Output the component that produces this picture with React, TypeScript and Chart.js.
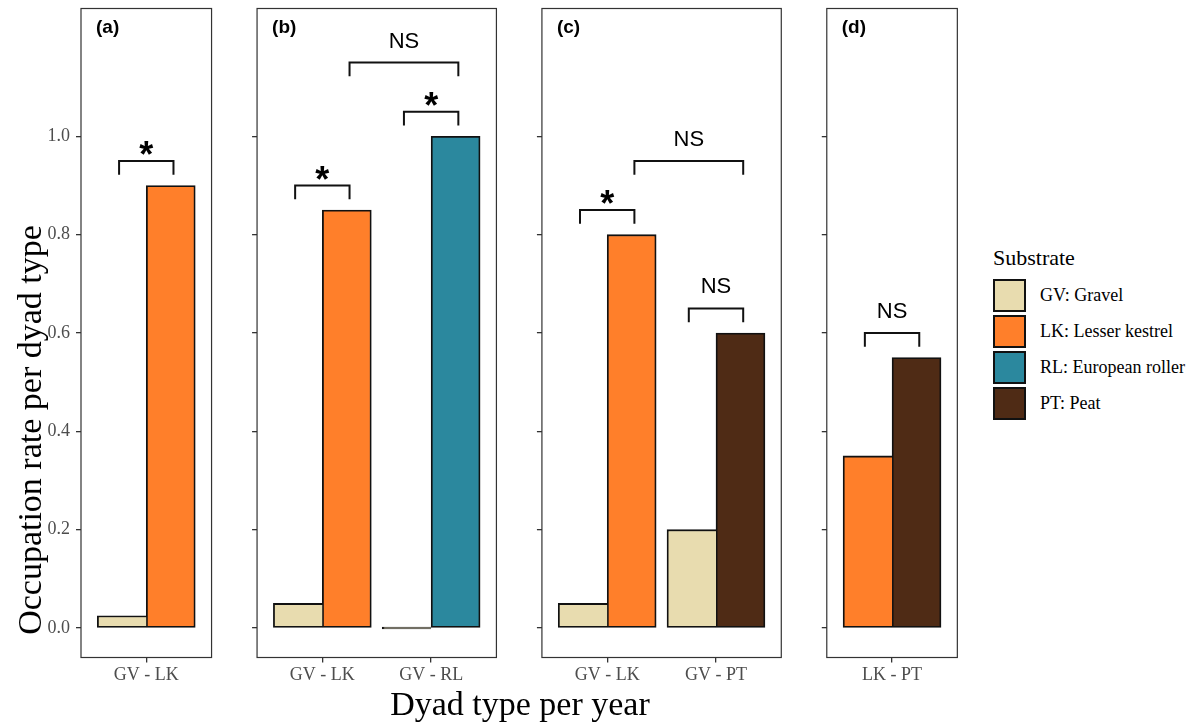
import React, { useEffect, useRef } from 'react';
import { Chart, registerables } from 'chart.js';

Chart.register(...registerables);

// ---------- data ----------
const panelLabels = ['(a)', '(b)', '(c)', '(d)'];
const panelCategories = [['GV - LK'], ['GV - LK', 'GV - RL'], ['GV - LK', 'GV - PT'], ['LK - PT']];
const substrateNames = ['GV: Gravel', 'LK: Lesser kestrel', 'RL: European roller', 'PT: Peat'];
const substrateColors = ['#E8DCAF', '#FF7F2A', '#2B889E', '#4F2B15'];
const gravelValues = [[0.025], [0.05, 0.0], [0.05, 0.2], [null]];
const kestrelValues = [[0.9], [0.85, null], [0.8, null], [0.35]];
const rollerValues = [[null], [null, 1.0], [null, null], [null]];
const peatValues = [[null], [null, null], [null, 0.6], [0.55]];
const yTickValues = [0, 0.2, 0.4, 0.6, 0.8, 1.0];

// significance brackets
const bracketPanel = [0, 1, 1, 1, 2, 2, 2, 3];
const bracketFrom = [0.75, 0.75, 1.75, 1.25, 0.75, 1.25, 1.75, 0.75];
const bracketTo = [1.25, 1.25, 2.25, 2.25, 1.25, 2.25, 2.25, 1.25];
const bracketY = [0.95, 0.9, 1.05, 1.15, 0.85, 0.95, 0.65, 0.6];
const bracketLabel = ['*', '*', '*', 'NS', '*', 'NS', 'NS', 'NS'];

const seriesValues = [gravelValues, kestrelValues, rollerValues, peatValues];

// ---------- layout ----------
const UNIT = 108.8;
const GAP = 45.5;
const FIRST_LEFT = 81;
const PANEL_TOP = 8.5;
const PANEL_BOTTOM = 657.5;
const CANVAS_H = 700;
const AXIS_SPACE = 60;
const BAR_PX = UNIT * 0.45;
const TIP = 0.028;
const BAR_BORDER = 1.8;
const SERIF = '"Liberation Serif", "Times New Roman", serif';
const SANS = '"Liberation Sans", Arial, sans-serif';

function panelGeometry(p: number) {
  let left = FIRST_LEFT;
  for (let i = 0; i < p; i++) left += (panelCategories[i].length + 0.2) * UNIT + GAP;
  const width = (panelCategories[p].length + 0.2) * UNIT;
  const right = left + width;
  const canvasLeft = Math.floor(left) - AXIS_SPACE;
  const axisW = left - canvasLeft;
  const canvasW = Math.ceil(right) + 3 - canvasLeft;
  const rightPad = canvasLeft + canvasW - right;
  return { left, width, canvasLeft, axisW, canvasW, rightPad };
}

function makeConfig(p: number, g: ReturnType<typeof panelGeometry>): any {
  const cats = panelCategories[p];
  const isLeftBar = (s: number, k: number) => {
    if (seriesValues[s][p][k] == null) return false;
    for (let s2 = s + 1; s2 < seriesValues.length; s2++) {
      if (seriesValues[s2][p][k] != null) return true;
    }
    return false;
  };
  const decor = {
    id: 'panelDecor' + p,
    afterDatasetsDraw(chart: any) {
      const { ctx, chartArea: a, scales } = chart;
      ctx.save();
      ctx.strokeStyle = '#333333';
      ctx.lineWidth = 1.2;
      ctx.strokeRect(a.left, a.top, a.right - a.left, a.bottom - a.top);
      ctx.fillStyle = '#000';
      ctx.font = 'bold 19px ' + SANS;
      ctx.textAlign = 'left';
      ctx.textBaseline = 'alphabetic';
      ctx.fillText(panelLabels[p], a.left + 15, a.top + 24);
      bracketPanel.forEach((bp, i) => {
        if (bp !== p) return;
        const x1 = scales.x.getPixelForValue(bracketFrom[i]);
        const x2 = scales.x.getPixelForValue(bracketTo[i]);
        const y = scales.y.getPixelForValue(bracketY[i]);
        const yTip = scales.y.getPixelForValue(bracketY[i] - TIP);
        ctx.beginPath();
        ctx.moveTo(x1, yTip);
        ctx.lineTo(x1, y);
        ctx.lineTo(x2, y);
        ctx.lineTo(x2, yTip);
        ctx.lineWidth = 2;
        ctx.strokeStyle = '#111';
        ctx.stroke();
        ctx.textAlign = 'center';
        ctx.fillStyle = '#000';
        const mid = (x1 + x2) / 2;
        if (bracketLabel[i] === '*') {
          ctx.font = 'bold 36px ' + SANS;
          ctx.fillText(bracketLabel[i], mid, y + 6);
        } else {
          ctx.font = '22px ' + SANS;
          ctx.fillText(bracketLabel[i], mid, y - 15);
        }
      });
      ctx.restore();
    },
  };
  return {
    type: 'bar',
    data: {
      datasets: seriesValues.map((vals, s) => ({
        label: substrateNames[s],
        data: cats.map((_, k) => ({ x: k + 1, y: vals[p][k] })),
        backgroundColor: substrateColors[s],
        borderColor: '#111111',
        borderWidth: (ctx: any) =>
          isLeftBar(s, ctx.dataIndex)
            ? { top: BAR_BORDER, left: BAR_BORDER, bottom: BAR_BORDER, right: 0 }
            : BAR_BORDER,
        borderSkipped: false,
        barThickness: BAR_PX,
        minBarLength: 2,
        skipNull: true,
      })),
    },
    options: {
      animation: false,
      responsive: false,
      maintainAspectRatio: false,
      devicePixelRatio: 1,
      layout: { padding: { top: PANEL_TOP, right: g.rightPad, left: 0, bottom: 0 } },
      plugins: { legend: { display: false }, tooltip: { enabled: false } },
      events: [],
      scales: {
        x: {
          type: 'linear',
          offset: false,
          min: 0.4,
          max: cats.length + 0.6,
          afterBuildTicks: (s: any) => {
            s.ticks = cats.map((_, k) => ({ value: k + 1 }));
          },
          afterFit: (s: any) => {
            s.height = CANVAS_H - PANEL_BOTTOM;
            s.paddingLeft = 0;
            s.paddingRight = 0;
          },
          ticks: {
            callback: (v: any) => cats[Number(v) - 1] ?? '',
            color: '#4D4D4D',
            font: { family: SERIF, size: 18 },
            padding: 2,
            maxRotation: 0,
            autoSkip: false,
          },
          grid: {
            offset: false,
            drawOnChartArea: false,
            drawTicks: true,
            tickLength: 5,
            color: '#333333',
            lineWidth: 1.3,
          },
          border: { display: false },
        },
        y: {
          type: 'linear',
          min: -0.06,
          max: 1.26,
          afterBuildTicks: (s: any) => {
            s.ticks = yTickValues.map((v) => ({ value: v }));
          },
          afterFit: (s: any) => {
            s.width = g.axisW;
            s.paddingTop = 0;
            s.paddingBottom = 0;
          },
          ticks: {
            display: p === 0,
            callback: (v: any) => Number(v).toFixed(1),
            color: '#4D4D4D',
            font: { family: SERIF, size: 18 },
            padding: 6,
          },
          grid: { drawOnChartArea: false, drawTicks: true, tickLength: 5, color: '#333333', lineWidth: 1.3 },
          border: { display: false },
        },
      },
    },
    plugins: [decor],
  };
}

function Panel({ p }: { p: number }) {
  const ref = useRef<HTMLCanvasElement>(null);
  const g = panelGeometry(p);
  useEffect(() => {
    const chart = new Chart(ref.current as HTMLCanvasElement, makeConfig(p, g));
    return () => chart.destroy();
  }, []);
  return (
    <canvas
      ref={ref}
      width={g.canvasW}
      height={CANVAS_H}
      style={{ position: 'absolute', left: g.canvasLeft, top: 0, width: g.canvasW, height: CANVAS_H }}
    />
  );
}

export default function App() {
  return (
    <div style={{ position: 'absolute', left: 0, top: 0, width: 1197, height: 725, background: '#fff', overflow: 'hidden' }}>
      {panelCategories.map((_, p) => (
        <Panel key={p} p={p} />
      ))}
      <div
        style={{
          position: 'absolute',
          left: 29.5 - 300,
          top: 430 - 20,
          width: 600,
          height: 40,
          lineHeight: '40px',
          textAlign: 'center',
          transform: 'rotate(-90deg)',
          fontFamily: SERIF,
          fontSize: 34,
          color: '#000',
          whiteSpace: 'nowrap',
        }}
      >
        Occupation rate per dyad type
      </div>
      <div
        style={{
          position: 'absolute',
          left: 520 - 300,
          top: 686.5,
          width: 600,
          height: 34,
          lineHeight: '34px',
          textAlign: 'center',
          fontFamily: SERIF,
          fontSize: 34,
          color: '#000',
          whiteSpace: 'nowrap',
        }}
      >
        Dyad type per year
      </div>
      <div
        style={{
          position: 'absolute',
          left: 993,
          top: 246,
          height: 24,
          lineHeight: '24px',
          fontFamily: SERIF,
          fontSize: 22,
          color: '#000',
          whiteSpace: 'nowrap',
        }}
      >
        Substrate
      </div>
      {substrateNames.map((name, i) => (
        <React.Fragment key={name}>
          <div
            style={{
              position: 'absolute',
              left: 993,
              top: 279 + i * 36,
              width: 33,
              height: 33,
              boxSizing: 'border-box',
              border: '2px solid #111',
              background: substrateColors[i],
            }}
          />
          <div
            style={{
              position: 'absolute',
              left: 1040,
              top: 279 + i * 36,
              height: 33,
              lineHeight: '33px',
              fontFamily: SERIF,
              fontSize: 18,
              color: '#000',
              whiteSpace: 'nowrap',
            }}
          >
            {name}
          </div>
        </React.Fragment>
      ))}
    </div>
  );
}
